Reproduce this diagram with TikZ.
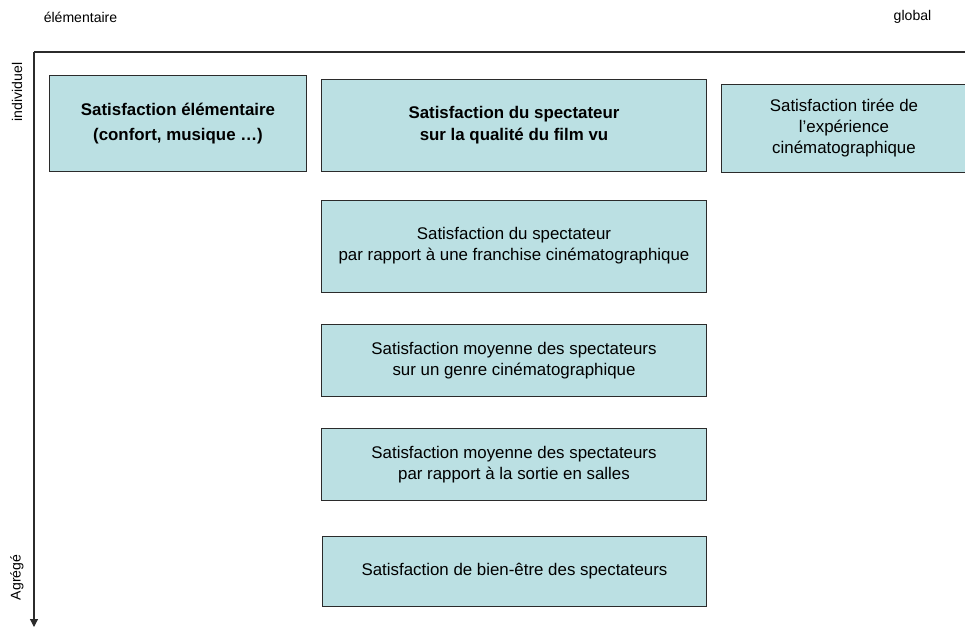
\documentclass[tikz,border=0pt]{standalone}
\usepackage{fontspec}
\setmainfont{Liberation Sans}
\usetikzlibrary{arrows.meta, positioning}
\definecolor{cbox}{HTML}{BBE0E3}
\definecolor{cline}{HTML}{2B2B2B}
\tikzset{
  every picture/.style={line width=0.7pt},
  box/.style={draw=cline, fill=cbox, align=center, inner sep=4pt, minimum width=9.6cm, font=\fontsize{12}{15}\selectfont},
  axis/.style={draw=cline, line width=0.8pt},
  axlab/.style={font=\fontsize{10}{12}\selectfont, inner sep=0pt},
}

\begin{document}
\begin{tikzpicture}[x=0.025cm, y=-0.025cm]
  \useasboundingbox (0,0) rectangle (965,627);
  % axes
  \coordinate (o) at (34,52);
  \coordinate (xend) at (966,52);
  \coordinate (yend) at (34,627);
  \draw[axis] (o) -- (xend);
  \draw[axis, -{Triangle[length=2mm, width=2mm]}] (o) -- (yend);
  \node[axlab] (elem) at (80.5,17) {élémentaire};
  \node[axlab] (glob) at (912.5,17) {global};
  \node[axlab, rotate=90] (indiv) at (17,92) {individuel};
  \node[axlab, rotate=90] (agreg) at (17,577.5) {Agrégé};
  % boxes
  \node[box, minimum width=6.4cm, minimum height=2.42cm, font=\fontsize{12}{17.5}\selectfont\bfseries] (base) at (178,123.5) {Satisfaction élémentaire\\(confort, musique …)};
  \node[box, minimum height=2.32cm, font=\fontsize{12}{15.5}\selectfont\bfseries] (film) at (514,125.5) {Satisfaction du spectateur\\sur la qualité du film vu};
  \node[box, minimum width=6.1cm, minimum height=2.2cm] (exper) at (844,128) {Satisfaction tirée de\\l’expérience\\cinématographique};
  \node[box, minimum height=2.3cm] (franch) at (514,246) {Satisfaction du spectateur\\par rapport à une franchise cinématographique};
  \node[box, minimum height=1.82cm] (genre) at (514,360.5) {Satisfaction moyenne des spectateurs\\sur un genre cinématographique};
  \node[box, minimum height=1.82cm] (salles) at (514,464.5) {Satisfaction moyenne des spectateurs\\par rapport à la sortie en salles};
  \node[box, minimum width=9.58cm, minimum height=1.75cm] (bien) at (514.5,571) {Satisfaction de bien-être des spectateurs};
\end{tikzpicture}
\end{document}
